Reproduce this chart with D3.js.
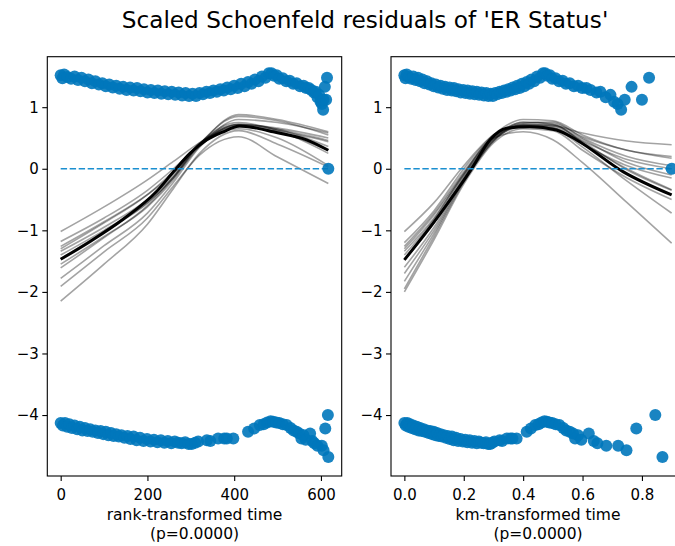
<!DOCTYPE html>
<html>
<head>
<meta charset="utf-8">
<script src="https://cdn.jsdelivr.net/npm/d3@7"></script>
<style>
  html, body { margin: 0; padding: 0; background: #fff; }
  svg text { font-family: "DejaVu Sans", sans-serif; fill: #000; }
</style>
</head>
<body>
<svg id="chart" width="675" height="546"></svg>
<script>
// Scaled Schoenfeld residuals: each row is [rank time, km time, residual]
const positiveRows = [
  [0,0.000,1.52],[4,0.004,1.47],[8,0.008,1.53],[16,0.015,1.49],[24,0.023,1.46],[32,0.030,1.50],
  [40,0.038,1.44],[48,0.046,1.48],[56,0.053,1.42],[64,0.061,1.45],[72,0.068,1.39],
  [80,0.076,1.42],[88,0.084,1.37],[96,0.091,1.39],[104,0.099,1.34],[112,0.106,1.37],
  [120,0.114,1.32],[128,0.122,1.35],[136,0.129,1.30],[144,0.137,1.33],[152,0.144,1.28],
  [160,0.152,1.32],[168,0.160,1.27],[176,0.167,1.31],[184,0.175,1.26],[192,0.182,1.29],
  [200,0.190,1.24],[208,0.198,1.28],[216,0.206,1.23],[224,0.213,1.27],[232,0.221,1.22],
  [240,0.229,1.26],[248,0.237,1.21],[256,0.244,1.25],[264,0.252,1.20],[272,0.260,1.24],
  [280,0.268,1.19],[288,0.276,1.23],[296,0.283,1.18],[304,0.291,1.22],[312,0.298,1.18],
  [320,0.306,1.23],[328,0.313,1.21],[336,0.321,1.25],[344,0.328,1.23],[352,0.336,1.27],
  [360,0.343,1.25],[368,0.350,1.29],[376,0.358,1.27],[384,0.365,1.32],[392,0.373,1.29],
  [400,0.380,1.35],[408,0.388,1.31],[416,0.396,1.38],[424,0.404,1.34],[432,0.412,1.41],
  [440,0.420,1.38],[448,0.428,1.45],[456,0.437,1.42],[464,0.447,1.50],[472,0.457,1.48],
  [480,0.467,1.55],[486,0.474,1.55],[492,0.482,1.51],[498,0.490,1.52],[504,0.498,1.46],
  [512,0.509,1.47],[520,0.521,1.42],[528,0.533,1.43],[536,0.544,1.38],[544,0.557,1.39],
  [552,0.571,1.34],[560,0.585,1.35],[566,0.599,1.31],[572,0.613,1.31],[578,0.627,1.28],
  [584,0.647,1.24],[588,0.660,1.25],[592,0.678,1.16],[596,0.694,1.20],[599,0.706,1.09],
  [602,0.718,1.05],[605,0.730,0.96],[606,0.742,1.12],[609,0.765,1.33],[612,0.800,1.12],
  [614,0.824,1.48],[617,0.900,0.00]
];

const negativeRows = [
  [0,0.000,-4.13],[5,0.005,-4.17],[10,0.010,-4.13],[15,0.014,-4.19],[20,0.019,-4.15],
  [26,0.025,-4.21],[32,0.030,-4.17],[38,0.036,-4.23],[44,0.042,-4.19],[50,0.048,-4.25],
  [56,0.053,-4.21],[62,0.059,-4.26],[68,0.065,-4.23],[74,0.070,-4.27],[80,0.076,-4.25],
  [86,0.082,-4.29],[92,0.087,-4.26],[98,0.093,-4.31],[104,0.099,-4.27],[110,0.105,-4.33],
  [116,0.110,-4.29],[122,0.116,-4.34],[128,0.122,-4.31],[134,0.127,-4.35],[140,0.133,-4.33],
  [147,0.140,-4.37],[154,0.146,-4.34],[161,0.153,-4.39],[168,0.160,-4.35],[175,0.166,-4.41],
  [183,0.174,-4.37],[191,0.181,-4.42],[199,0.189,-4.39],[207,0.197,-4.43],[215,0.205,-4.40],
  [223,0.212,-4.44],[231,0.220,-4.41],[239,0.228,-4.45],[247,0.236,-4.42],[255,0.244,-4.46],
  [263,0.251,-4.43],[271,0.259,-4.45],[279,0.267,-4.46],[287,0.275,-4.44],[295,0.282,-4.47],
  [302,0.289,-4.47],[310,0.296,-4.45],[317,0.303,-4.43],[337,0.321,-4.41],[345,0.329,-4.42],
  [363,0.345,-4.38],[377,0.358,-4.38],[383,0.364,-4.38],[398,0.378,-4.38],[432,0.412,-4.27],
  [446,0.426,-4.22],[459,0.441,-4.16],[468,0.452,-4.15],[476,0.462,-4.12],[484,0.472,-4.10],
  [490,0.480,-4.11],[497,0.488,-4.12],[504,0.498,-4.13],[512,0.509,-4.15],[521,0.522,-4.16],
  [530,0.535,-4.21],[537,0.545,-4.25],[544,0.557,-4.27],[550,0.568,-4.30],[555,0.575,-4.38],
  [560,0.585,-4.33],[565,0.596,-4.40],[575,0.621,-4.30],[580,0.638,-4.42],[585,0.650,-4.46],
  [592,0.680,-4.50],[602,0.720,-4.50],[606,0.748,-4.57],[610,0.781,-4.22],[616,0.845,-4.00],
  [617,0.869,-4.68]
];

// Lowess fit and bootstrap fits against rank-transformed time
const rankFitX = [0, 68, 144, 221, 260, 298, 337, 375, 413, 452, 490, 567, 617];
const rankFit  = [-1.47, -1.18, -0.82, -0.37, -0.05, 0.25, 0.47, 0.60, 0.695, 0.66, 0.60, 0.47, 0.30];
const rankBootX = [0, 100, 200, 260, 320, 410, 500, 617];
const rankBoot = [
  [-1.02, -0.62, -0.18, 0.12, 0.42, 0.72, 0.66, 0.50],
  [-1.18, -0.80, -0.35, 0.00, 0.38, 0.80, 0.75, 0.58],
  [-1.26, -0.86, -0.42, -0.08, 0.40, 0.68, 0.60, 0.30],
  [-1.34, -0.95, -0.50, -0.12, 0.40, 0.85, 0.78, 0.55],
  [-1.40, -1.00, -0.55, -0.15, 0.36, 0.70, 0.62, 0.44],
  [-1.55, -1.10, -0.62, -0.18, 0.40, 0.75, 0.62, 0.25],
  [-1.61, -1.12, -0.60, -0.14, 0.42, 0.65, 0.50, 0.05],
  [-1.78, -1.25, -0.72, -0.22, 0.35, 0.72, 0.64, 0.46],
  [-1.91, -1.35, -0.80, -0.28, 0.22, 0.52, 0.19, -0.24],
  [-2.15, -1.55, -0.90, -0.32, 0.25, 0.62, 0.40, 0.03],
  [-1.30, -0.88, -0.42, -0.04, 0.40, 0.88, 0.80, 0.60],
  [-1.46, -1.02, -0.56, -0.14, 0.40, 0.72, 0.64, 0.36]
];

// Lowess fit and bootstrap fits against km-transformed time
const kmFitX = [0, 0.119, 0.231, 0.288, 0.344, 0.422, 0.512, 0.58, 0.736, 0.9];
const kmFit  = [-1.48, -0.74, 0.034, 0.468, 0.658, 0.684, 0.63, 0.468, -0.047, -0.426];
const kmBootX = [0, 0.1, 0.2, 0.3, 0.4, 0.5, 0.6, 0.75, 0.9];
const kmBoot = [
  [-1.02, -0.55, 0.05, 0.55, 0.72, 0.70, 0.58, 0.45, 0.39],
  [-1.26, -0.72, -0.05, 0.52, 0.75, 0.74, 0.52, 0.30, 0.17],
  [-1.34, -0.80, -0.10, 0.50, 0.70, 0.68, 0.45, 0.15, 0.00],
  [-1.48, -0.88, -0.12, 0.48, 0.68, 0.66, 0.40, 0.05, -0.15],
  [-1.83, -1.05, -0.20, 0.45, 0.72, 0.72, 0.42, 0.00, -0.34],
  [-2.00, -1.15, -0.25, 0.42, 0.65, 0.62, 0.30, -0.15, -0.50],
  [-1.40, -0.82, -0.08, 0.50, 0.60, 0.47, 0.10, -0.55, -1.21],
  [-1.95, -1.10, -0.22, 0.45, 0.70, 0.66, 0.35, -0.20, -0.72],
  [-1.20, -0.68, 0.00, 0.55, 0.80, 0.78, 0.55, 0.30, 0.20],
  [-1.60, -0.95, -0.15, 0.48, 0.74, 0.76, 0.50, 0.20, 0.05],
  [-1.30, -0.75, -0.08, 0.52, 0.70, 0.70, 0.48, 0.10, -0.10],
  [-1.70, -1.00, -0.18, 0.46, 0.76, 0.72, 0.44, -0.02, -0.35]
];

const yTicks = [-4, -3, -2, -1, 0, 1];
const rankTicks = [0, 200, 400, 600];
const kmTicks = [0.0, 0.2, 0.4, 0.6, 0.8];
const titleText = "Scaled Schoenfeld residuals of 'ER Status'";
const pText = "(p=0.0000)";

const svg = d3.select("#chart");
const plotTop = 56.7, plotBottom = 476;
const y = d3.scaleLinear().domain([-4.99, 1.82]).range([plotBottom, plotTop]);

const panels = [
  { x0: 47.3, x1: 341.7, domain: [-30.85, 647.85], col: 0, ticks: rankTicks, fmt: d3.format("d"),
    fitX: rankFitX, fit: rankFit, bootX: rankBootX, boot: rankBoot, xmax: 617,
    label: "rank-transformed time" },
  { x0: 391, x1: 685, domain: [-0.045, 0.945], col: 1, ticks: kmTicks, fmt: d3.format(".1f"),
    fitX: kmFitX, fit: kmFit, bootX: kmBootX, boot: kmBoot, xmax: 0.9,
    label: "km-transformed time" }
];

const dotColor = "#0077bb";

panels.forEach(p => {
  const x = d3.scaleLinear().domain(p.domain).range([p.x0, p.x1]);
  const g = svg.append("g");

  // bootstrap lowess curves
  p.boot.forEach(vals => {
    const line = d3.line().x((d, i) => x(p.bootX[i])).y(d => y(d)).curve(d3.curveMonotoneX);
    g.append("path").attr("d", line(vals))
      .attr("fill", "none").attr("stroke", "#000").attr("stroke-opacity", 0.36)
      .attr("stroke-width", 1.6);
  });

  // lowess curve of the residuals
  const fitLine = d3.line().x((d, i) => x(p.fitX[i])).y(d => y(d)).curve(d3.curveMonotoneX);
  g.append("path").attr("d", fitLine(p.fit))
    .attr("fill", "none").attr("stroke", "#000").attr("stroke-width", 3);

  // zero reference
  g.append("line")
    .attr("x1", x(0)).attr("x2", x(p.xmax)).attr("y1", y(0)).attr("y2", y(0))
    .attr("stroke", "#1b8fd0").attr("stroke-width", 1.7).attr("stroke-dasharray", "6.4,2.6");

  // residual points
  const rows = positiveRows.concat(negativeRows);
  g.selectAll("circle").data(rows).enter().append("circle")
    .attr("cx", d => x(d[p.col])).attr("cy", d => y(d[2])).attr("r", 6)
    .attr("fill", dotColor).attr("fill-opacity", 0.9);

  // frame
  svg.append("rect").attr("x", p.x0).attr("y", plotTop)
    .attr("width", p.x1 - p.x0).attr("height", plotBottom - plotTop)
    .attr("fill", "none").attr("stroke", "#000").attr("stroke-width", 1.1);

  // axes
  const xa = svg.append("g").attr("transform", `translate(0,${plotBottom})`)
    .call(d3.axisBottom(x).tickValues(p.ticks).tickFormat(p.fmt).tickSize(5).tickPadding(8.5));
  const ya = svg.append("g").attr("transform", `translate(${p.x0},0)`)
    .call(d3.axisLeft(y).tickValues(yTicks).tickFormat(d3.format("d")).tickSize(5).tickPadding(3.5));
  [xa, ya].forEach(a => {
    a.select(".domain").remove();
    a.selectAll("line").attr("stroke", "#000").attr("stroke-width", 1.1);
    a.selectAll("text").attr("font-family", "DejaVu Sans, sans-serif").attr("font-size", 15).attr("fill", "#000");
  });

  const cx = (p.x0 + p.x1) / 2;
  svg.append("text").attr("x", cx).attr("y", 520).attr("text-anchor", "middle")
    .attr("font-size", 15.5).text(p.label);
  svg.append("text").attr("x", cx).attr("y", 539).attr("text-anchor", "middle")
    .attr("font-size", 15.5).text(pText);
});

svg.append("text").attr("x", 365).attr("y", 28).attr("text-anchor", "middle")
  .attr("font-size", 23.2).text(titleText);
</script>
</body>
</html>
